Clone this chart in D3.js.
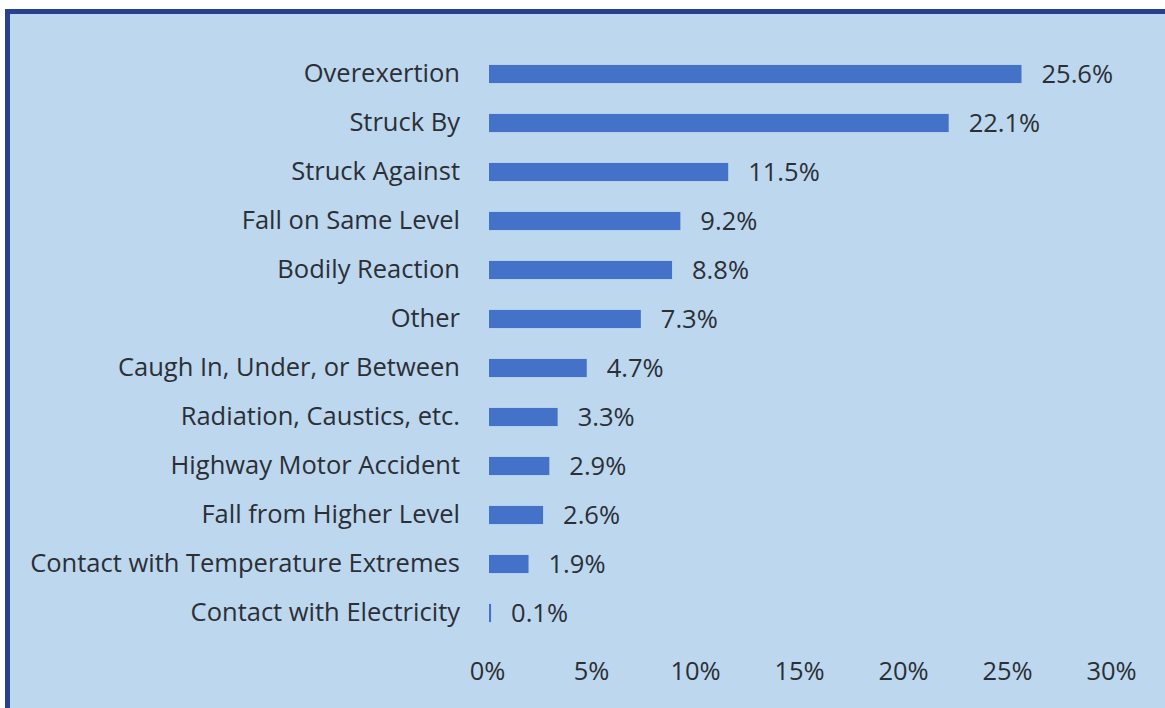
<!DOCTYPE html>
<html lang="en">
<head>
    <meta charset="UTF-8">
    <title>Injury causes: horizontal bar chart</title>
    <script src="https://d3js.org/d3.v7.min.js"></script>
    <style>
        body { margin: 0; background: #ffffff; }
        text { font-family: "Open Sans", Lato, sans-serif; fill: #2b2f36; }
    </style>
</head>
<body>
    <div id="chart"></div>
    <script>
        // chart data
        const categories = ["Overexertion", "Struck By", "Struck Against", "Fall on Same Level",
            "Bodily Reaction", "Other", "Caugh In, Under, or Between", "Radiation, Caustics, etc.",
            "Highway Motor Accident", "Fall from Higher Level", "Contact with Temperature Extremes",
            "Contact with Electricity"];
        const values = [25.6, 22.1, 11.5, 9.2, 8.8, 7.3, 4.7, 3.3, 2.9, 2.6, 1.9, 0.1];
        const tickValues = [0, 5, 10, 15, 20, 25, 30];

        const W = 1165, H = 708;
        const svg = d3.select("#chart").append("svg")
            .attr("width", W).attr("height", H);

        // light blue panel with dark blue frame top + left
        svg.append("rect").attr("x", 5).attr("y", 9).attr("width", W - 5).attr("height", H - 9)
            .attr("fill", "#bdd7ee");
        svg.append("rect").attr("x", 5).attr("y", 9).attr("width", W - 5).attr("height", 5)
            .attr("fill", "#27408f");
        svg.append("rect").attr("x", 5).attr("y", 9).attr("width", 5).attr("height", H - 9)
            .attr("fill", "#27408f");

        // find a font size so the longest label is ~430px wide like the original
        const probe = svg.append("text").style("font-size", "20px")
            .text("Contact with Temperature Extremes");
        const fs = 20 * 430 / probe.node().getComputedTextLength();
        probe.remove();

        const x = d3.scaleLinear().domain([0, 30]).range([489, 1113]);
        const y = d3.scaleBand().domain(categories).range([49.5, 637.5]).paddingInner(0.63).paddingOuter(0.315);

        // bars
        svg.append("g").selectAll("rect")
            .data(values)
            .join("rect")
            .attr("x", x(0))
            .attr("y", (d, i) => y(categories[i]))
            .attr("width", d => x(d) - x(0))
            .attr("height", y.bandwidth())
            .attr("fill", "#4472c8");

        // value labels
        svg.append("g").selectAll("text")
            .data(values)
            .join("text")
            .attr("x", d => x(d) + 20)
            .attr("y", (d, i) => y(categories[i]) + y.bandwidth() / 2)
            .attr("dy", "0.35em")
            .style("font-size", fs + "px")
            .text(d => d.toFixed(1) + "%");

        // category axis (labels only)
        const yAxis = svg.append("g")
            .attr("transform", "translate(470,0)")
            .call(d3.axisLeft(y).tickSize(0).tickPadding(10));
        yAxis.select(".domain").remove();
        yAxis.selectAll("text").style("font-size", fs + "px").attr("fill", "#2b2f36");

        // value axis (labels only)
        const xAxis = svg.append("g")
            .attr("transform", "translate(-2,662)")
            .call(d3.axisBottom(x).tickValues(tickValues).tickSize(0).tickPadding(0)
                .tickFormat(d => d + "%"));
        xAxis.select(".domain").remove();
        xAxis.selectAll("text").style("font-size", fs + "px").attr("fill", "#2b2f36");
    </script>
</body>
</html>
